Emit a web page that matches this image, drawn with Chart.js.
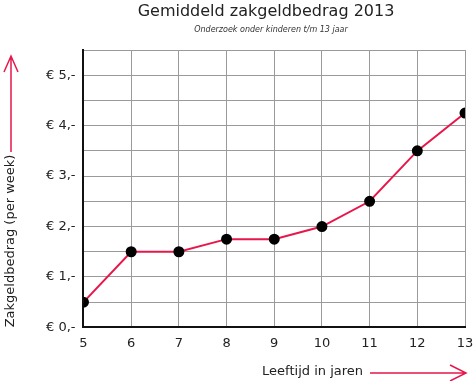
<!DOCTYPE html>
<html>
<head>
<meta charset="utf-8">
<script src="https://cdn.jsdelivr.net/npm/chart.js@4"></script>
<style>
  html, body { margin: 0; padding: 0; background: #fff; }
  #wrap { width: 474px; height: 381px; }
</style>
</head>
<body>
<div id="wrap"><canvas id="zakgeldChart"></canvas></div>
<script>
// leeftijd (jaren) en gemiddeld zakgeld in euro
let ages = [5, 6, 7, 8, 9, 10, 11, 12, 13];
let amounts = [0.5, 1.5, 1.5, 1.75, 1.75, 2.0, 2.5, 3.5, 4.25];
let yTickLabels = ["€ 0,-", "€ 1,-", "€ 2,-", "€ 3,-", "€ 4,-", "€ 5,-"];

const RED = "#e8174a";
const FONT = "'DejaVu Sans', Verdana, sans-serif";

// titels, pijlen en astitels zoals in het origineel
const decorPlugin = {
  id: "decor",
  afterDraw(chart) {
    const ctx = chart.ctx;
    const area = chart.chartArea;
    ctx.save();
    ctx.textBaseline = "middle";
    ctx.textAlign = "center";
    ctx.fillStyle = "#222";
    ctx.font = "16px " + FONT;
    ctx.fillText("Gemiddeld zakgeldbedrag 2013", 266, 12);
    ctx.fillStyle = "#333";
    ctx.font = "italic 8px " + FONT;
    ctx.fillText("Onderzoek onder kinderen t/m 13 jaar", 271, 30);

    ctx.strokeStyle = RED;
    ctx.lineWidth = 1.5;

    // y pijl
    ctx.beginPath();
    ctx.moveTo(11, 152);
    ctx.lineTo(11, 56);
    ctx.moveTo(4, 72);
    ctx.lineTo(11, 56);
    ctx.lineTo(18, 72);
    ctx.stroke();

    // x pijl
    ctx.beginPath();
    ctx.moveTo(370, 373);
    ctx.lineTo(area.right + 1, 373);
    ctx.moveTo(area.right - 15, 365);
    ctx.lineTo(area.right + 1, 373);
    ctx.lineTo(area.right - 15, 381);
    ctx.stroke();

    ctx.fillStyle = "#222";
    ctx.font = "13px " + FONT;
    ctx.textAlign = "right";
    ctx.fillText("Leeftijd in jaren", 363, 372);

    ctx.translate(11, 241);
    ctx.rotate(-Math.PI / 2);
    ctx.textAlign = "center";
    ctx.fillText("Zakgeldbedrag (per week)", 0, 0);
    ctx.restore();
  },
};

let ctx = document.getElementById("zakgeldChart").getContext("2d");
new Chart(ctx, {
  type: "line",
  data: {
    datasets: [
      {
        label: "Zakgeld",
        data: ages.map((a, i) => ({ x: a, y: amounts[i] })),
        borderColor: RED,
        borderWidth: 2,
        pointBackgroundColor: "#000",
        pointBorderColor: "#000",
        pointRadius: 4.5,
        tension: 0,
      },
    ],
  },
  options: {
    responsive: true,
    maintainAspectRatio: false,
    animation: false,
    layout: { padding: { left: 38, right: 0, top: 50, bottom: 22 } },
    plugins: {
      legend: { display: false },
      tooltip: { enabled: false },
    },
    scales: {
      x: {
        type: "linear",
        min: 5,
        max: 13,
        afterFit: (scale) => {
          scale.paddingRight = 9;
        },
        ticks: {
          stepSize: 1,
          color: "#222",
          padding: 8,
          font: { family: FONT, size: 13 },
        },
        grid: { color: "#9a9a9a", lineWidth: 1, drawTicks: false },
        border: { color: "#111", width: 2 },
      },
      y: {
        min: 0,
        max: 5.5,
        ticks: {
          stepSize: 0.5,
          color: "#222",
          padding: 8,
          font: { family: FONT, size: 13 },
          callback: (v) => (Number.isInteger(v) ? yTickLabels[v] : ""),
        },
        grid: { color: "#9a9a9a", lineWidth: 1, drawTicks: false },
        border: { color: "#111", width: 2 },
      },
    },
  },
  plugins: [decorPlugin],
});
</script>
</body>
</html>
